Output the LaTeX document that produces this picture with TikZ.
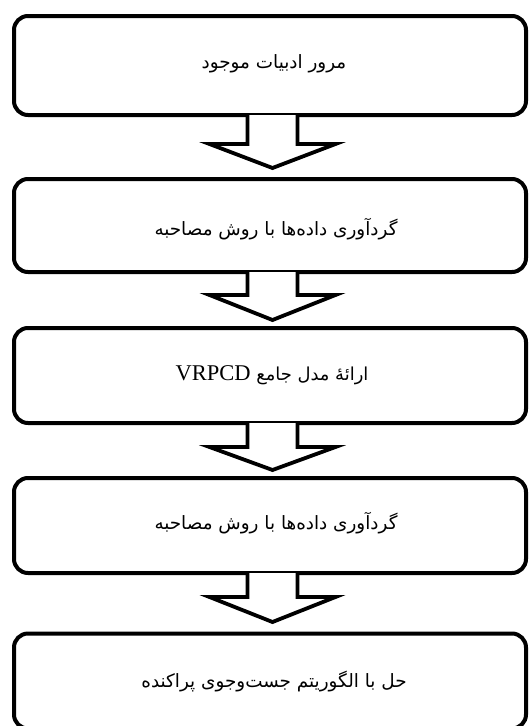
\documentclass[tikz,border=0pt]{standalone}
\usepackage{fontspec}
\usetikzlibrary{calc}
\TeXXeTstate=1
\newfontfamily\arabicfont[Script=Arabic]{DejaVu Sans}
\newfontfamily\latinserif{Liberation Serif}
\newlength\wtest
\newlength\wtestb
\settowidth\wtest{\arabicfont\fontsize{10}{12}\selectfont\beginR گردآوری داده‌ها با روش مصاحبه\endR}
\settowidth\wtestb{\arabicfont\fontsize{10}{12}\selectfont\beginR ارائهٔ مدل جامع\endR}
\pgfmathsetmacro\fsmain{10*243/\wtest}
\pgfmathsetmacro\fsthree{10*112/\wtestb}
\tikzset{
  box/.style={draw=black, line width=4pt, rounded corners=14pt, outer sep=0pt,
    minimum width=512pt, inner sep=0pt},
  boxtext/.style={inner sep=0pt, font=\arabicfont\fontsize{\fsmain}{\fsmain}\selectfont},
  blockarrow/.style={draw=black, fill=white, line width=3.8pt, line join=miter}
}
\begin{document}
\begin{tikzpicture}[x=1pt,y=-1pt]
\useasboundingbox (0,0) rectangle (529,726);
\node[box, minimum height=99pt] (b1) at (270,65.5) {};
\node[box, minimum height=93pt] (b2) at (270,225.5) {};
\node[box, minimum height=95pt] (b3) at (270,375.5) {};
\node[box, minimum height=95pt] (b4) at (270,525.5) {};
\node[box, minimum height=95pt] (b5) at (270,681) {};
\node[boxtext] (t1) at ($(b1.center)+(4,-2)$) {\beginR مرور ادبیات موجود\endR};
\node[boxtext] (t2) at ($(b2.center)+(6,4)$) {\beginR گردآوری داده‌ها با روش مصاحبه\endR};
\node[boxtext, font=\arabicfont\fontsize{\fsthree}{\fsthree}\selectfont] (t3) at ($(b3.center)+(2,0)$) {\beginR ارائهٔ مدل جامع \beginL{\latinserif\fontsize{22.5}{24}\selectfont VRPCD}\endL\endR};
\node[boxtext] (t4) at ($(b4.center)+(6,-2)$) {\beginR گردآوری داده‌ها با روش مصاحبه\endR};
\node[boxtext] (t5) at ($(b5.center)+(4,1)$) {\beginR حل با الگوریتم جست‌وجوی پراکنده\endR};
\draw[blockarrow] ($(b1.south)+(-22.5,0)$) -- ++(0,29) -- ++(-38,0) -- ++(63,24) -- ++(63,-24) -- ++(-38,0) -- ++(0,-29);
\draw[blockarrow] ($(b2.south)+(-22.5,0)$) -- ++(0,23) -- ++(-38,0) -- ++(63,25) -- ++(63,-25) -- ++(-38,0) -- ++(0,-23);
\draw[blockarrow] ($(b3.south)+(-22.5,0)$) -- ++(0,24) -- ++(-38,0) -- ++(63,23) -- ++(63,-23) -- ++(-38,0) -- ++(0,-24);
\draw[blockarrow] ($(b4.south)+(-22.5,0)$) -- ++(0,24) -- ++(-38,0) -- ++(63,25) -- ++(63,-25) -- ++(-38,0) -- ++(0,-24);
\end{tikzpicture}
\end{document}
